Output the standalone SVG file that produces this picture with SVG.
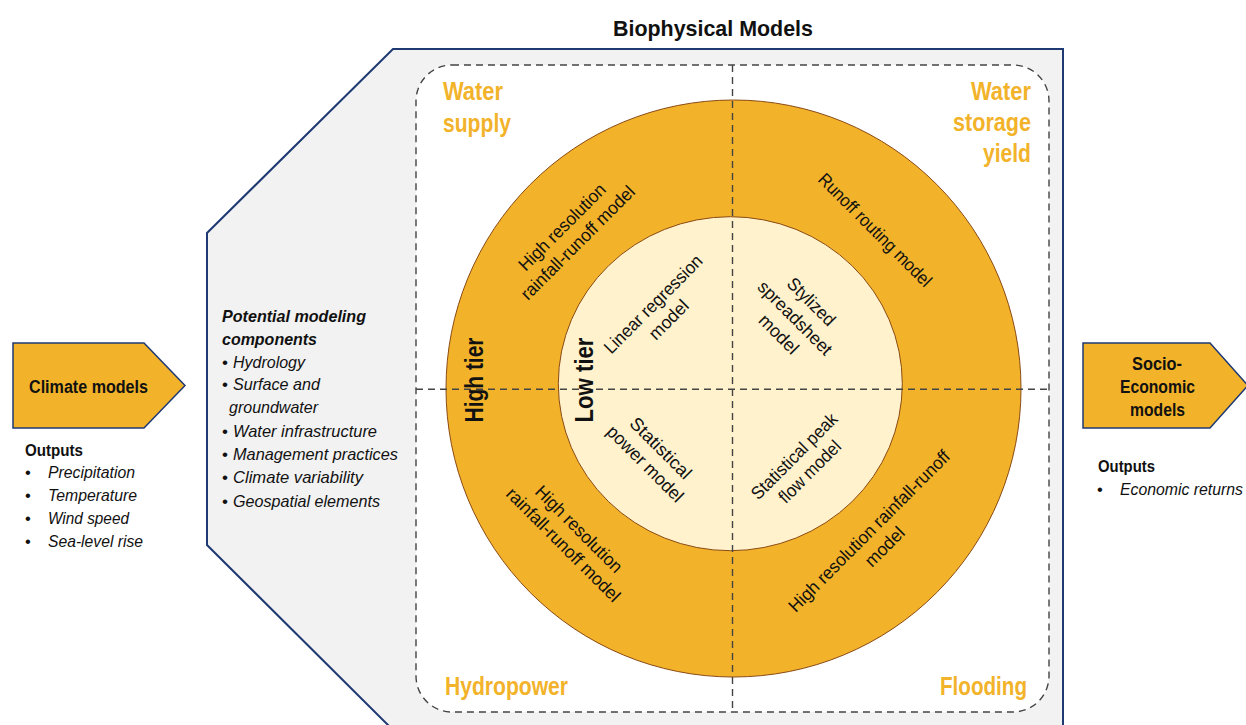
<svg xmlns="http://www.w3.org/2000/svg" width="1246" height="725" viewBox="0 0 1246 725">
<style>
text{font-family:"Liberation Sans Narrow","Liberation Sans",Arial,sans-serif;fill:#111;}
.b{font-weight:bold;}
.i{font-style:italic;}
.q{font-weight:bold;fill:#F2B32A;font-size:25px;}
.m{font-size:18px;text-anchor:middle;}
.dash{stroke:#444;stroke-width:1.4;stroke-dasharray:7 5;fill:none;}
.arrow{fill:#F2B32A;stroke:#1F3A73;stroke-width:1.5;}
</style>
<rect width="1246" height="725" fill="#fff"/>
<g id="panel">
<polygon points="393,49 1063,49 1063,730 393,730 207,545 207,233" fill="#F2F2F2" stroke="#1F3A73" stroke-width="2"/>
<text class="b" x="613" y="36" font-size="22" textLength="200" lengthAdjust="spacingAndGlyphs">Biophysical Models</text>
</g>
<g id="quadrants">
<rect x="416" y="65" width="633" height="647" rx="36" ry="36" class="dash" style="fill:#fff"/>
</g>
<g id="high-tier">
<ellipse cx="733.5" cy="388.5" rx="287.5" ry="288.5" fill="#F2B32A" stroke="#8B4A14" stroke-width="1"/>
</g>
<g id="low-tier">
<ellipse cx="730.3" cy="383.7" rx="172" ry="167" fill="#FFF2CC" stroke="#8B4A14" stroke-width="1"/>
</g>
<g id="connectors">
<line class="dash" x1="732.5" y1="65" x2="732.5" y2="712"/>
<line class="dash" x1="416" y1="389.3" x2="1049" y2="389.3"/>
</g>
<g id="quadrant-labels">
<text class="q" x="443" y="100" textLength="60" lengthAdjust="spacingAndGlyphs">Water</text>
<text class="q" x="443" y="132" textLength="68" lengthAdjust="spacingAndGlyphs">supply</text>
<text class="q" x="971" y="100" textLength="60" lengthAdjust="spacingAndGlyphs">Water</text>
<text class="q" x="953" y="131" textLength="78" lengthAdjust="spacingAndGlyphs">storage</text>
<text class="q" x="983" y="162" textLength="48" lengthAdjust="spacingAndGlyphs">yield</text>
<text class="q" x="445" y="695" textLength="123" lengthAdjust="spacingAndGlyphs">Hydropower</text>
<text class="q" x="940" y="695" textLength="87" lengthAdjust="spacingAndGlyphs">Flooding</text>
</g>
<g id="tier-labels">
<text class="b" font-size="26" transform="translate(483,380) rotate(-90)" x="-42.5" textLength="85" lengthAdjust="spacingAndGlyphs">High tier</text>
<text class="b" font-size="26" transform="translate(593,380) rotate(-90)" x="-42.5" textLength="85" lengthAdjust="spacingAndGlyphs">Low tier</text>
</g>
<g id="models" lengthAdjust="spacingAndGlyphs">
<g transform="translate(570,235) rotate(-45)"><text class="m" y="-5" textLength="115" lengthAdjust="spacingAndGlyphs">High resolution</text><text class="m" y="17" textLength="153" lengthAdjust="spacingAndGlyphs">rainfall-runoff model</text></g>
<g transform="translate(661,312) rotate(-45)"><text class="m" y="-5" textLength="131" lengthAdjust="spacingAndGlyphs">Linear regression</text><text class="m" y="17" textLength="48" lengthAdjust="spacingAndGlyphs">model</text></g>
<g transform="translate(875,230) rotate(45)"><text class="m" y="6" textLength="152" lengthAdjust="spacingAndGlyphs">Runoff routing model</text></g>
<g transform="translate(795,318) rotate(45)"><text class="m" y="-17" textLength="60" lengthAdjust="spacingAndGlyphs">Stylized</text><text class="m" y="6" textLength="97" lengthAdjust="spacingAndGlyphs">spreadsheet</text><text class="m" y="29" textLength="48" lengthAdjust="spacingAndGlyphs">model</text></g>
<g transform="translate(653,456) rotate(45)"><text class="m" y="-5" textLength="79" lengthAdjust="spacingAndGlyphs">Statistical</text><text class="m" y="17" textLength="100" lengthAdjust="spacingAndGlyphs">power model</text></g>
<g transform="translate(571,537) rotate(45)"><text class="m" y="-5" textLength="115" lengthAdjust="spacingAndGlyphs">High resolution</text><text class="m" y="17" textLength="153" lengthAdjust="spacingAndGlyphs">rainfall-runoff model</text></g>
<g transform="translate(802,464) rotate(-45)"><text class="m" y="-5" textLength="114" lengthAdjust="spacingAndGlyphs">Statistical peak</text><text class="m" y="17" textLength="80" lengthAdjust="spacingAndGlyphs">flow model</text></g>
<g transform="translate(877,539) rotate(-45)"><text class="m" y="-5" textLength="220" lengthAdjust="spacingAndGlyphs">High resolution rainfall-runoff</text><text class="m" y="17" textLength="48" lengthAdjust="spacingAndGlyphs">model</text></g>
</g>
<g id="components">
<text class="b i" x="222" y="322" font-size="17" textLength="144" lengthAdjust="spacingAndGlyphs">Potential modeling</text>
<text class="b i" x="222" y="345" font-size="17" textLength="95" lengthAdjust="spacingAndGlyphs">components</text>
<g font-size="17">
<text x="222" y="368">•</text><text class="i" x="233" y="368" textLength="72" lengthAdjust="spacingAndGlyphs">Hydrology</text>
<text x="222" y="390">•</text><text class="i" x="233" y="390" textLength="87" lengthAdjust="spacingAndGlyphs">Surface and</text>
<text class="i" x="229" y="413" textLength="89" lengthAdjust="spacingAndGlyphs">groundwater</text>
<text x="222" y="437">•</text><text class="i" x="233" y="437" textLength="144" lengthAdjust="spacingAndGlyphs">Water infrastructure</text>
<text x="222" y="460">•</text><text class="i" x="233" y="460" textLength="165" lengthAdjust="spacingAndGlyphs">Management practices</text>
<text x="222" y="483">•</text><text class="i" x="233" y="483" textLength="130" lengthAdjust="spacingAndGlyphs">Climate variability</text>
<text x="222" y="507">•</text><text class="i" x="233" y="507" textLength="147" lengthAdjust="spacingAndGlyphs">Geospatial elements</text>
</g>
</g>
<g id="climate-models">
<polygon class="arrow" points="13,343 144,343 185,385.5 144,428 13,428"/>
<text class="b" x="29" y="393" font-size="18" textLength="119" lengthAdjust="spacingAndGlyphs">Climate models</text>
<text class="b" x="25" y="456" font-size="17" textLength="58" lengthAdjust="spacingAndGlyphs">Outputs</text>
<g font-size="16.5">
<text x="25" y="478">•</text><text class="i" x="48" y="478" textLength="87" lengthAdjust="spacingAndGlyphs">Precipitation</text>
<text x="25" y="501">•</text><text class="i" x="48" y="501" textLength="89" lengthAdjust="spacingAndGlyphs">Temperature</text>
<text x="25" y="524">•</text><text class="i" x="48" y="524" textLength="81" lengthAdjust="spacingAndGlyphs">Wind speed</text>
<text x="25" y="547">•</text><text class="i" x="48" y="547" textLength="95" lengthAdjust="spacingAndGlyphs">Sea-level rise</text>
</g>
</g>
<g id="socio-economic-models">
<polygon class="arrow" points="1083,343 1210,343 1248,385.5 1210,428 1083,428"/>
<g class="b" font-size="18">
<text x="1132" y="370" textLength="50" lengthAdjust="spacingAndGlyphs">Socio-</text>
<text x="1120" y="393" textLength="75" lengthAdjust="spacingAndGlyphs">Economic</text>
<text x="1130" y="416" textLength="55" lengthAdjust="spacingAndGlyphs">models</text>
</g>
<text class="b" x="1098" y="472" font-size="17" textLength="57" lengthAdjust="spacingAndGlyphs">Outputs</text>
<text x="1097" y="495" font-size="16.5">•</text><text class="i" x="1120" y="495" font-size="16.5" textLength="123" lengthAdjust="spacingAndGlyphs">Economic returns</text>
</g>
</svg>
